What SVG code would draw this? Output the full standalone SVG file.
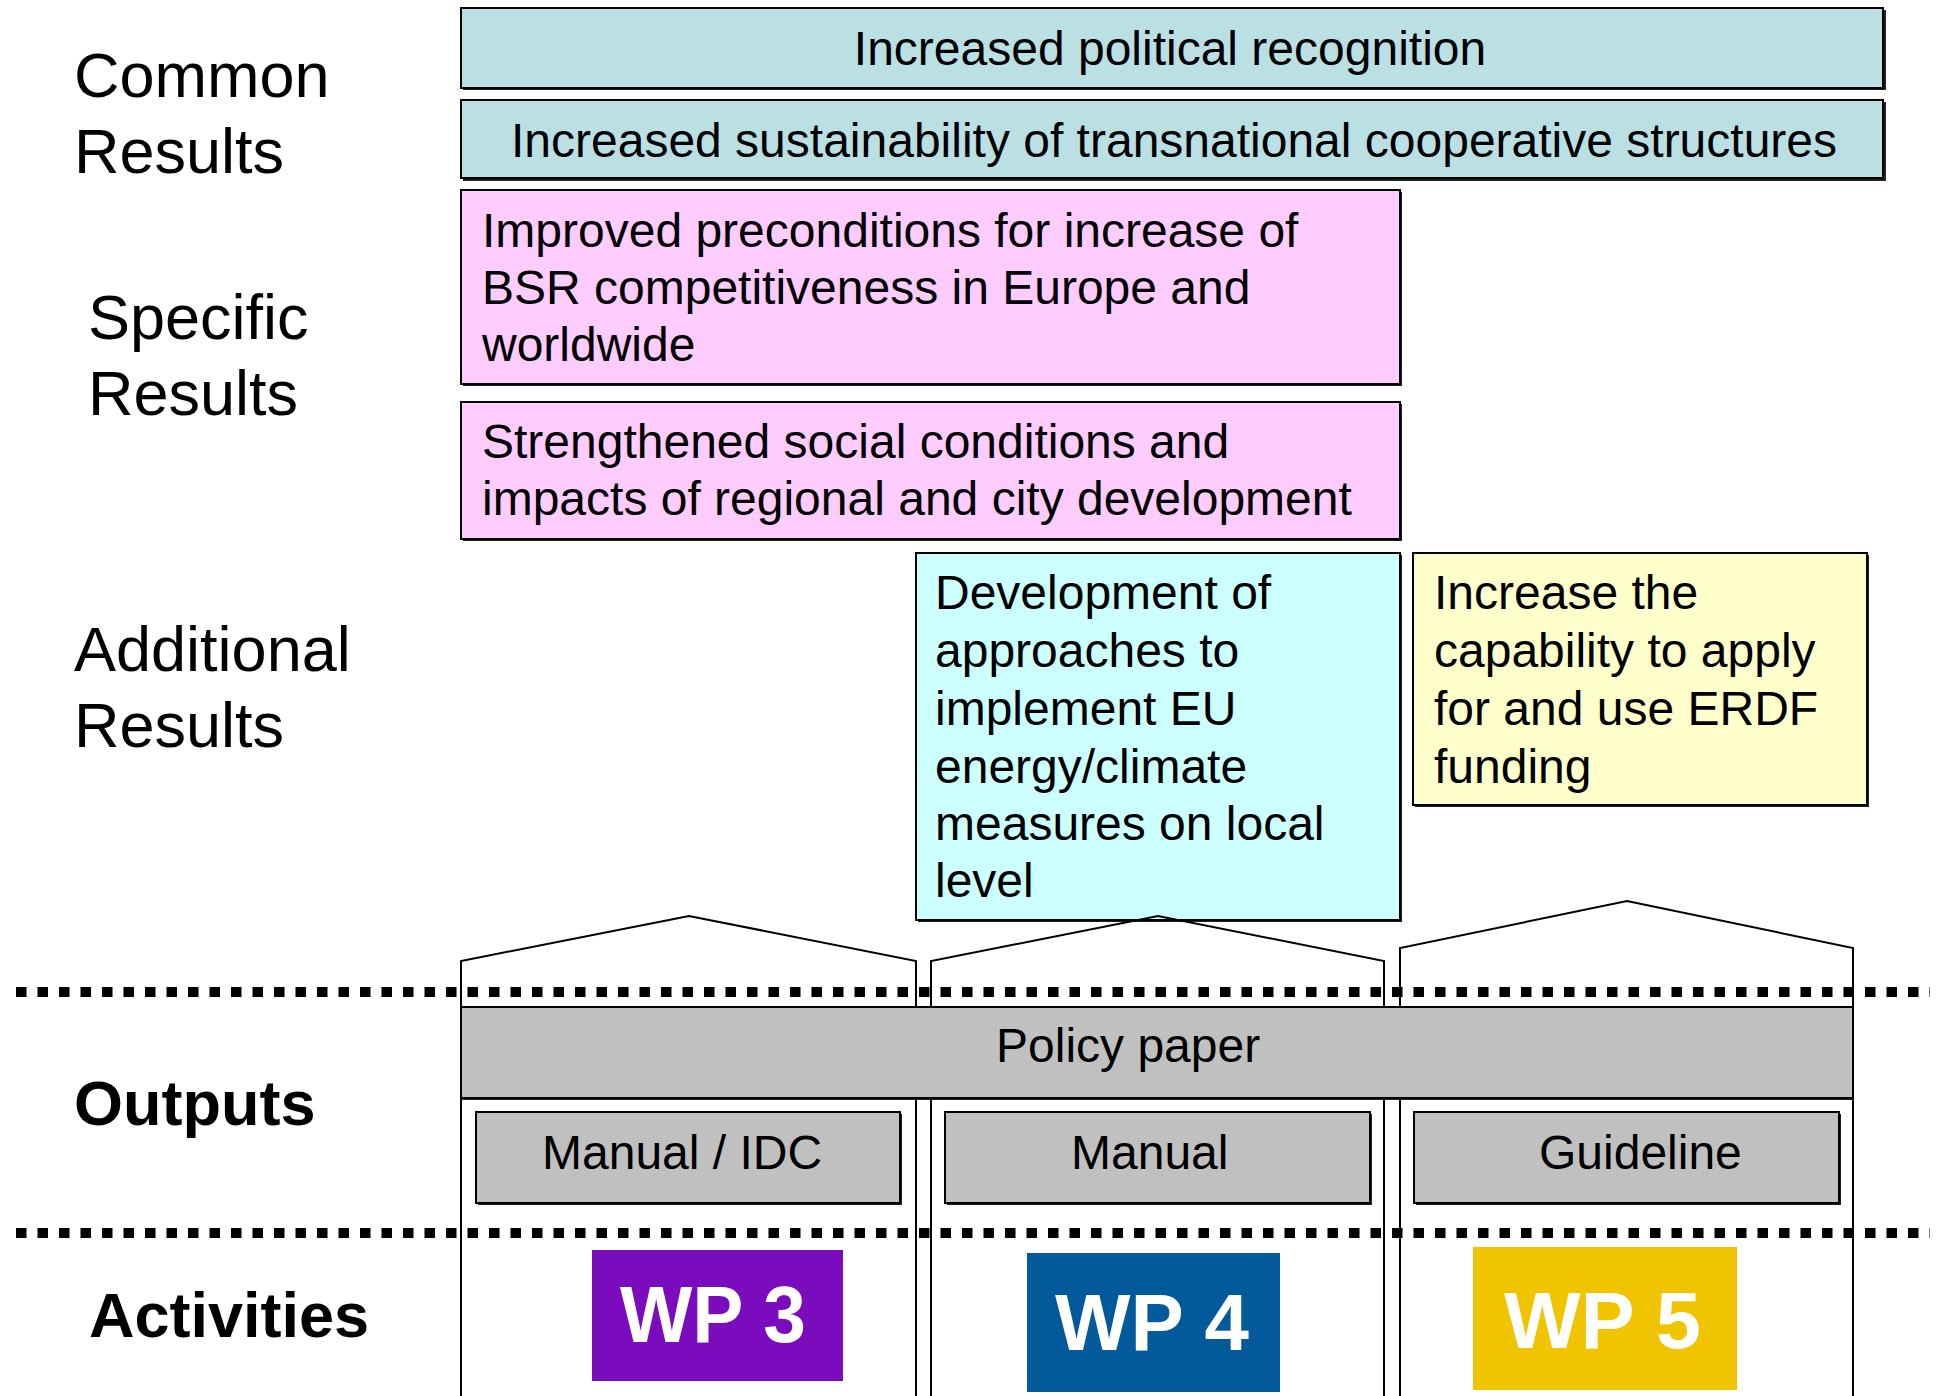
<svg xmlns="http://www.w3.org/2000/svg" width="1939" height="1396" viewBox="0 0 1939 1396">
<style>
  text { font-family: "Liberation Sans", Arial, sans-serif; fill: #000; }
  .lbl { font-size: 63px; }
  .lblb { font-size: 63px; font-weight: bold; }
  .t48 { font-size: 48px; }
  .box { stroke: #000; stroke-width: 2; }
  .common { fill: #BAE0E3; }
  .pink { fill: #FFCCFF; }
  .cyan { fill: #CCFFFF; }
  .yellow { fill: #FFFFCC; }
  .gray { fill: #C0C0C0; }
  .shadow { fill: #222; }
  .house { fill: none; stroke: #000; stroke-width: 2; }
  .sep { stroke: #000; stroke-width: 10; stroke-dasharray: 10.5 11; fill: none; }
  .wp { font-size: 80px; font-weight: bold; fill: #fff; }
</style>
<rect width="1939" height="1396" fill="#fff"/>

<g id="labels">
  <text class="lbl" x="74" y="97">Common</text>
  <text class="lbl" x="74" y="173">Results</text>
  <text class="lbl" x="88" y="339">Specific</text>
  <text class="lbl" x="88" y="415">Results</text>
  <text class="lbl" x="74" y="671">Additional</text>
  <text class="lbl" x="74" y="747">Results</text>
  <text class="lblb" x="74" y="1125">Outputs</text>
  <text class="lblb" x="89" y="1337">Activities</text>
</g>

<g id="common-1">
  <rect class="shadow" x="463" y="10" width="1423" height="80"/>
  <rect class="box common" x="461" y="8" width="1422" height="80"/>
  <text class="t48" x="1170" y="65" text-anchor="middle">Increased political recognition</text>
</g>
<g id="common-2">
  <rect class="shadow" x="463" y="102" width="1423" height="79"/>
  <rect class="box common" x="461" y="100" width="1422" height="78"/>
  <text class="t48" x="1174" y="157" text-anchor="middle">Increased sustainability of transnational cooperative structures</text>
</g>

<g id="specific-1">
  <rect class="shadow" x="463" y="192" width="939" height="194"/>
  <rect class="box pink" x="461" y="190" width="939" height="194"/>
  <text class="t48" x="482" y="247">Improved preconditions for increase of</text>
  <text class="t48" x="482" y="304">BSR competitiveness in Europe and</text>
  <text class="t48" x="482" y="361">worldwide</text>
</g>
<g id="specific-2">
  <rect class="shadow" x="463" y="404" width="939" height="137"/>
  <rect class="box pink" x="461" y="402" width="939" height="137"/>
  <text class="t48" x="482" y="458">Strengthened social conditions and</text>
  <text class="t48" x="482" y="515">impacts of regional and city development</text>
</g>

<g id="additional-1">
  <rect class="shadow" x="918" y="555" width="484" height="367"/>
  <rect class="box cyan" x="916" y="553" width="484" height="367"/>
  <text class="t48" x="935" y="609">Development of</text>
  <text class="t48" x="935" y="667">approaches to</text>
  <text class="t48" x="935" y="725">implement EU</text>
  <text class="t48" x="935" y="783">energy/climate</text>
  <text class="t48" x="935" y="840">measures on local</text>
  <text class="t48" x="935" y="897">level</text>
</g>
<g id="additional-2">
  <rect class="shadow" x="1415" y="555" width="454" height="252"/>
  <rect class="box yellow" x="1413" y="553" width="454" height="252"/>
  <text class="t48" x="1434" y="609">Increase the</text>
  <text class="t48" x="1434" y="667">capability to apply</text>
  <text class="t48" x="1434" y="725">for and use ERDF</text>
  <text class="t48" x="1434" y="783">funding</text>
</g>

<g id="house-wp3">
  <polyline class="house" points="461,1396 461,961 689,916 916,961 916,1396"/>
</g>
<g id="house-wp4">
  <polyline class="house" points="931,1396 931,961 1158,916 1384,961 1384,1396"/>
</g>
<g id="house-wp5">
  <polyline class="house" points="1400,1396 1400,948 1627,901 1853,948 1853,1396"/>
</g>

<g id="policy-paper">
  <rect class="shadow" x="461" y="1009" width="1393" height="91"/>
  <rect class="box gray" x="461" y="1007" width="1392" height="91"/>
  <text class="t48" x="996" y="1062">Policy paper</text>
</g>

<g id="output-manual-idc">
  <rect class="shadow" x="478" y="1114" width="424" height="91"/>
  <rect class="box gray" x="476" y="1112" width="424" height="91"/>
  <text class="t48" x="542" y="1169">Manual / IDC</text>
</g>
<g id="output-manual">
  <rect class="shadow" x="947" y="1114" width="425" height="91"/>
  <rect class="box gray" x="945" y="1112" width="425" height="91"/>
  <text class="t48" x="1071" y="1169">Manual</text>
</g>
<g id="output-guideline">
  <rect class="shadow" x="1416" y="1114" width="425" height="91"/>
  <rect class="box gray" x="1414" y="1112" width="425" height="91"/>
  <text class="t48" x="1539" y="1169">Guideline</text>
</g>

<g id="wp3">
  <rect x="592" y="1250" width="251" height="131" fill="#7A0CBE"/>
  <text class="wp" x="620" y="1342" textLength="186" lengthAdjust="spacingAndGlyphs">WP 3</text>
</g>
<g id="wp4">
  <rect x="1027" y="1253" width="253" height="139" fill="#035A9A"/>
  <text class="wp" x="1055" y="1350" textLength="194" lengthAdjust="spacingAndGlyphs">WP 4</text>
</g>
<g id="wp5">
  <rect x="1473" y="1247" width="264" height="143" fill="#F0C400"/>
  <text class="wp" x="1504" y="1348" textLength="197" lengthAdjust="spacingAndGlyphs">WP 5</text>
</g>

<g id="connectors">
  <line class="sep" x1="16" y1="992" x2="1930" y2="992"/>
  <line class="sep" x1="16" y1="1233" x2="1930" y2="1233"/>
</g>
</svg>
